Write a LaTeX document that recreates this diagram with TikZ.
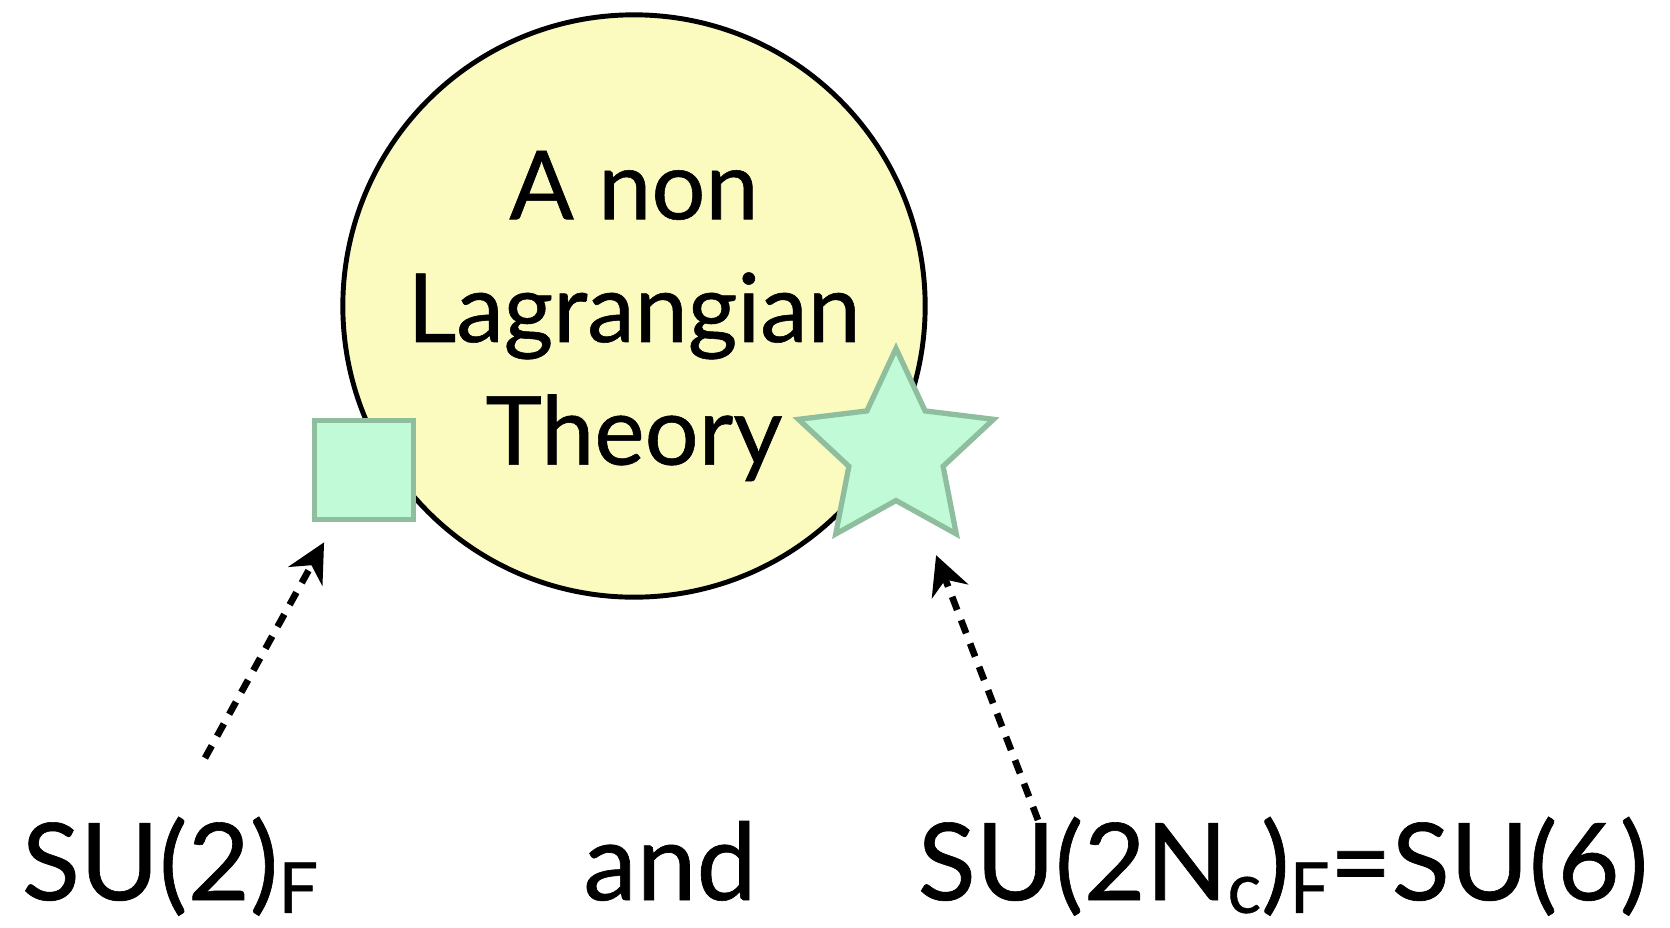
\documentclass[tikz,border=0pt]{standalone}
\usepackage{fontspec}
\setmainfont{Lato}[UprightFeatures={FakeBold=0.6}]
\usetikzlibrary{arrows.meta,positioning,shapes.geometric,calc}
\newcommand{\lowidx}[1]{\raisebox{-0.12em}{\fontsize{20}{20}\selectfont #1}}
\definecolor{theoryfill}{HTML}{FBFBC0}
\definecolor{mintfill}{HTML}{C0FAD6}
\definecolor{mintline}{HTML}{8FBE9F}

\begin{document}
\begin{tikzpicture}[x=0.01cm, y=-0.01cm, >={Stealth[length=11pt,width=11pt]},
  every node/.style={font=\fontsize{30.5}{34.9}\selectfont},
  theory/.style={circle, draw=black, line width=1.4pt, fill=theoryfill, minimum size=5.82cm, inner sep=0pt},
  theorytext/.style={align=center, font=\fontsize{27.1}{34.9}\selectfont},
  flavbox/.style={rectangle, draw=mintline, fill=mintfill, line width=1.5pt, minimum size=0.99cm, inner sep=0pt},
  flavstar/.style={star, star points=5, star point ratio=2.07, draw=mintline, fill=mintfill, line width=1.5pt, minimum size=2.05cm, inner sep=0pt},
  flow/.style={->, line width=1.9pt, dash pattern=on 0.14cm off 0.11cm}]
\useasboundingbox (0,0) rectangle (1670,927);
\node[theory] (ntheory) at (634,306) {};
\node[theorytext] (ttext) at (634,316) {A non\\Lagrangian\\Theory};
\node[flavbox] (square) at (364,470) {};
\node[flavstar] (star) at (896,451) {};
\node[anchor=base] (su2) at (170,900) {SU(2)\lowidx{F}};
\node[anchor=base] (and) at (670,900) {and};
\node[anchor=base] (su6) at (1283,900) {SU(2N\lowidx{c})\lowidx{F}=SU(6)};
\coordinate (su2tail) at (205,758);
\coordinate (su6tail) at (1038,820);
\draw[flow, shorten >=0.23cm] (su2tail) -- (square);
\draw[flow, shorten >=0.4cm] (su6tail) -- (star);
\end{tikzpicture}
\end{document}
